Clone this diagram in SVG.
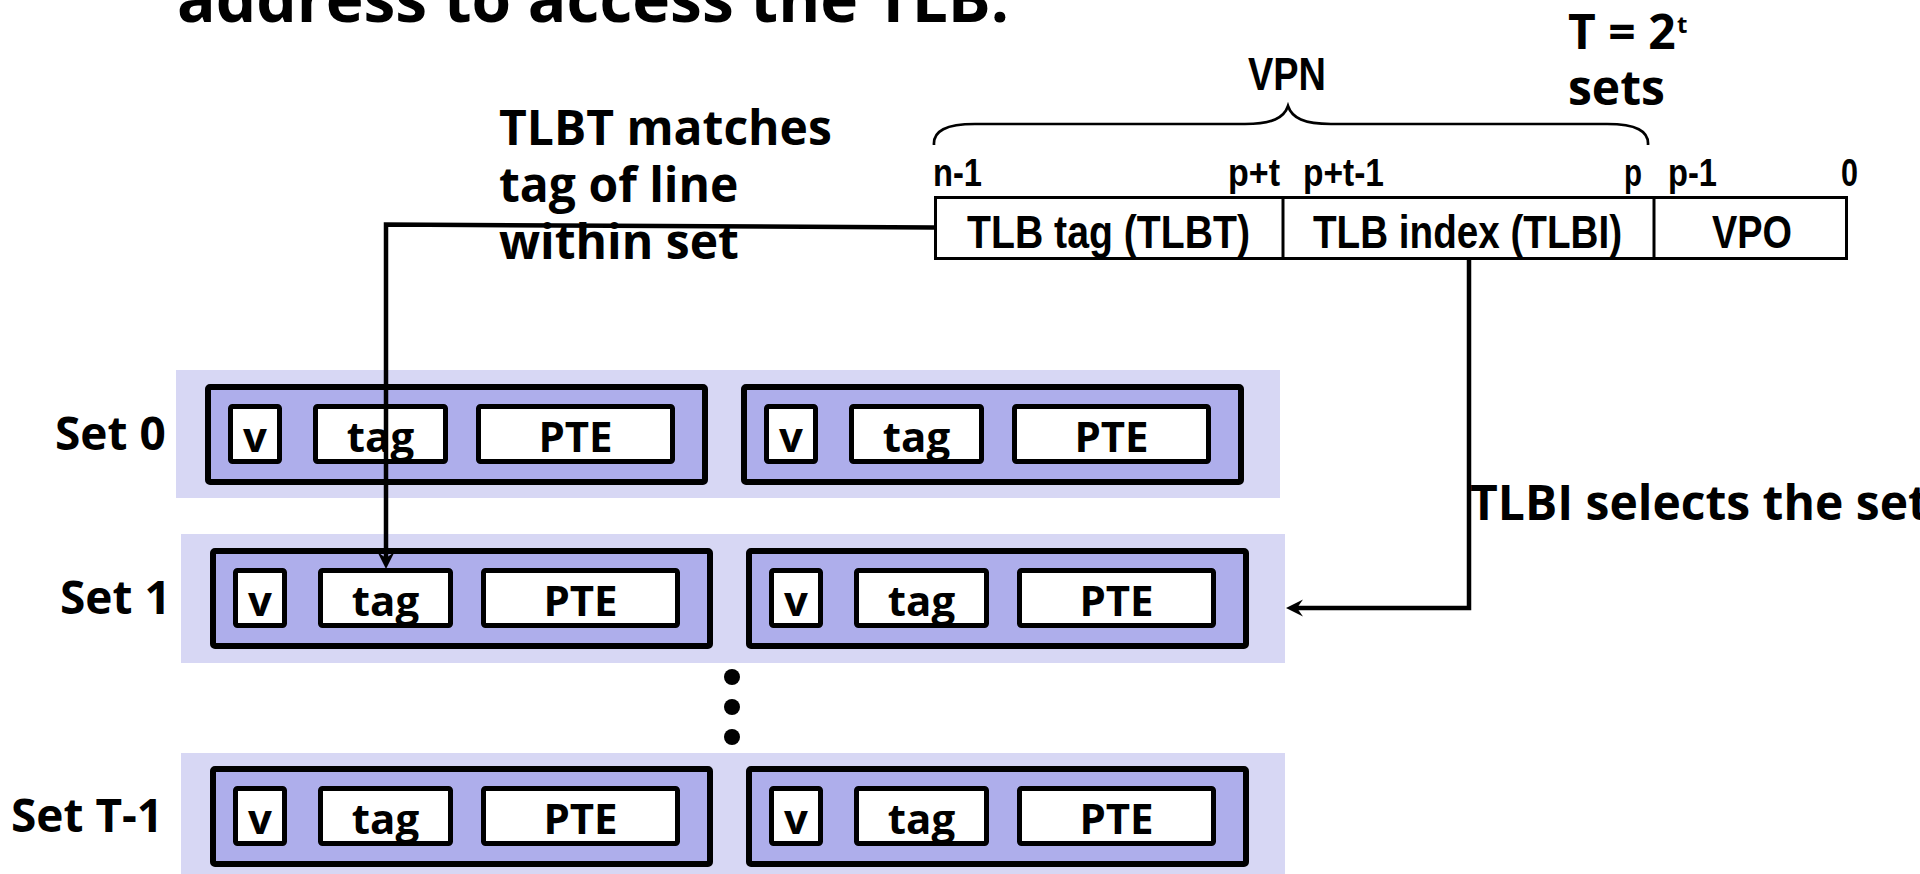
<svg xmlns="http://www.w3.org/2000/svg" width="1920" height="874" viewBox="0 0 1920 874">
<style>
.os{font-family:"Open Sans","Noto Sans","DejaVu Sans",sans-serif;font-weight:bold;fill:#000}
.nr{font-family:"Liberation Sans Narrow","Liberation Sans",Arial,sans-serif;font-weight:bold;fill:#000}
.setbg{fill:#D7D7F4}
.line{fill:#AEAEEB;stroke:#000;stroke-width:6}
.cell{fill:#fff;stroke:#000;stroke-width:5}
.fld{fill:#fff;stroke:#000;stroke-width:3}
.conn{fill:none;stroke:#000;stroke-width:4.5}
.cl{font-size:42px;text-anchor:middle}
.bit{font-size:38px}
.box{font-size:46px}
</style>
<defs>
<marker id="arr" viewBox="-10 -10 20 20" refX="0" refY="0" markerWidth="20" markerHeight="20" orient="auto" markerUnits="userSpaceOnUse">
<path d="M9,0 L-8,-8.5 L-2,0 L-8,8.5 Z" fill="#000"/>
</marker>
<g id="tlbline">
<rect class="line" x="3" y="3" width="497" height="95" rx="2"/>
<rect class="cell" x="25.5" y="22.5" width="49" height="55" rx="2"/>
<rect class="cell" x="110.5" y="22.5" width="130" height="55" rx="2"/>
<rect class="cell" x="273.5" y="22.5" width="194" height="55" rx="2"/>
<text class="os cl" x="50" y="68">v</text>
<text class="os cl" x="175.5" y="68">tag</text>
<text class="os cl" x="370.5" y="68">PTE</text>
</g>
</defs>

<g id="title">
<text class="os" x="177" y="22" font-size="64">address to access the TLB.</text>
</g>

<g id="labels">
<text class="os" x="499" y="145" font-size="48">TLBT matches</text>
<text class="os" x="499" y="202" font-size="48">tag of line</text>
<text class="os" x="499" y="259" font-size="48">within set</text>
<text class="os" x="1568" y="49" font-size="48">T = 2</text>
<text class="os" x="1677" y="33" font-size="24">t</text>
<text class="os" x="1568" y="105" font-size="48">sets</text>
<text class="os" x="1470" y="520" font-size="48">TLBI selects the set</text>
</g>

<g id="address">
<path d="M934,145 C933,131 946,124 975,124 L1245,124 C1272,124 1284,118 1288,106 C1292,118 1304,124 1331,124 L1607,124 C1636,124 1649,131 1648,145" fill="none" stroke="#000" stroke-width="2.7"/>
<text class="nr" x="1248" y="90" font-size="46" textLength="78" lengthAdjust="spacingAndGlyphs">VPN</text>
<text class="nr bit" x="933" y="186" textLength="49" lengthAdjust="spacingAndGlyphs">n-1</text>
<text class="nr bit" x="1228" y="186" textLength="52" lengthAdjust="spacingAndGlyphs">p+t</text>
<text class="nr bit" x="1303" y="186" textLength="81" lengthAdjust="spacingAndGlyphs">p+t-1</text>
<text class="nr bit" x="1624" y="186" textLength="18" lengthAdjust="spacingAndGlyphs">p</text>
<text class="nr bit" x="1668" y="186" textLength="49" lengthAdjust="spacingAndGlyphs">p-1</text>
<text class="nr bit" x="1841" y="186" textLength="17" lengthAdjust="spacingAndGlyphs">0</text>
<rect class="fld" x="935.5" y="197.5" width="911" height="61"/>
<line x1="1283" y1="197.5" x2="1283" y2="258.5" stroke="#000" stroke-width="3"/>
<line x1="1654" y1="197.5" x2="1654" y2="258.5" stroke="#000" stroke-width="3"/>
<text class="nr box" x="967" y="248" textLength="283" lengthAdjust="spacingAndGlyphs">TLB tag (TLBT)</text>
<text class="nr box" x="1313" y="248" textLength="309" lengthAdjust="spacingAndGlyphs">TLB index (TLBI)</text>
<text class="nr box" x="1712" y="248" textLength="80" lengthAdjust="spacingAndGlyphs">VPO</text>
</g>

<g id="set0">
<rect class="setbg" x="176" y="370" width="1104" height="128"/>
<text class="os" x="55" y="450" font-size="46">Set 0</text>
<use href="#tlbline" x="205" y="384"/>
<use href="#tlbline" x="741" y="384"/>
</g>

<g id="set1">
<rect class="setbg" x="181" y="534" width="1104" height="129"/>
<text class="os" x="60" y="614" font-size="46">Set 1</text>
<use href="#tlbline" x="210" y="548"/>
<use href="#tlbline" x="746" y="548"/>
</g>

<g id="dots">
<circle cx="732" cy="677" r="8"/>
<circle cx="732" cy="707" r="8"/>
<circle cx="732" cy="737" r="8"/>
</g>

<g id="setT1">
<rect class="setbg" x="181" y="753" width="1104" height="121"/>
<text class="os" x="11" y="832" font-size="46">Set T-1</text>
<use href="#tlbline" x="210" y="766"/>
<use href="#tlbline" x="746" y="766"/>
</g>

<g id="connectors">
<path class="conn" d="M934,227.5 L386,224.5 L386,560" marker-end="url(#arr)"/>
<path class="conn" d="M1469,260 L1469,608 L1295,608" marker-end="url(#arr)"/>
</g>
</svg>
